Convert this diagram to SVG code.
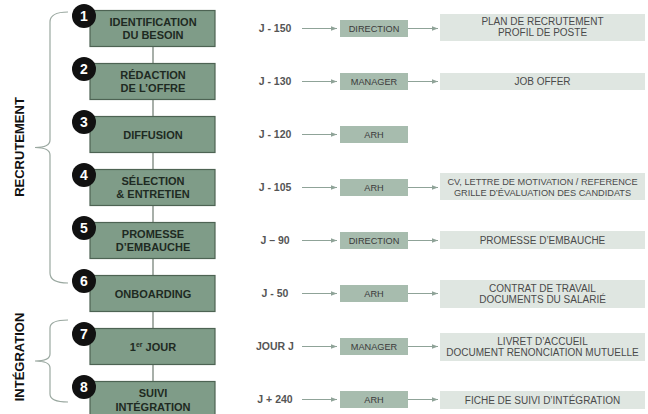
<svg xmlns="http://www.w3.org/2000/svg" width="648" height="414" viewBox="0 0 648 414">
<defs>
<marker id="ah" viewBox="0 0 6 6" refX="6" refY="3" markerWidth="6" markerHeight="6" markerUnits="userSpaceOnUse" orient="auto">
<path d="M0,0.8 L6,3 L0,5.2 Z" fill="#8fa398"/>
</marker>
<style>
.step{fill:#7f9c88;stroke:#4d6353;stroke-width:1.2}
.num{fill:#111}
.numt{font-family:"Liberation Sans",Arial,sans-serif;font-weight:bold;font-size:14px;fill:#fff;text-anchor:middle}
.st{font-family:"Liberation Sans",Arial,sans-serif;font-weight:bold;font-size:11px;fill:#1e2a22;text-anchor:middle}
.day{font-family:"Liberation Sans",Arial,sans-serif;font-weight:bold;font-size:10.5px;fill:#555;text-anchor:middle}
.role{fill:#a7bcae}
.rt{font-family:"Liberation Sans",Arial,sans-serif;font-size:9.2px;fill:#3a3a3a;text-anchor:middle}
.out{fill:#dfe6e1}
.ot{font-family:"Liberation Sans",Arial,sans-serif;font-size:10px;fill:#4a4a4a;text-anchor:middle}
.ots{font-size:9.2px}
.arr{stroke:#8fa398;stroke-width:1;fill:none}
.vline{stroke:#6d7a70;stroke-width:1.2}
.brace{stroke:#9aa8a0;stroke-width:1.2;fill:none}
.side{font-family:"Liberation Sans",Arial,sans-serif;font-weight:bold;font-size:13px;fill:#111;text-anchor:middle}
</style>
</defs>
<rect width="648" height="414" fill="#fff"/>

<g id="braces">
<path class="brace" d="M68,12 Q50,12 50,22 L50,140 Q50,147.5 35,147.5 Q50,147.5 50,155 L50,273 Q50,283 68,283"/>
<path class="brace" d="M68,320 Q50,320 50,328 L50,354 Q50,361 35,361 Q50,361 50,368 L50,394 Q50,402 68,402"/>
<text class="side" transform="translate(24,147) rotate(-90)">RECRUTEMENT</text>
<text class="side" transform="translate(24,357) rotate(-90)">INTÉGRATION</text>
</g>

<g id="connectors">
<line class="vline" x1="153" y1="46.5" x2="153" y2="63.5"/>
<line class="vline" x1="153" y1="99.5" x2="153" y2="116.5"/>
<line class="vline" x1="153" y1="152.5" x2="153" y2="169.5"/>
<line class="vline" x1="153" y1="205.5" x2="153" y2="222.5"/>
<line class="vline" x1="153" y1="258.5" x2="153" y2="275.5"/>
<line class="vline" x1="153" y1="311.5" x2="153" y2="328.5"/>
<line class="vline" x1="153" y1="364.5" x2="153" y2="381.5"/>
<line class="arr" x1="302" y1="28.5" x2="337" y2="28.5" marker-end="url(#ah)"/>
<line class="arr" x1="302" y1="81.5" x2="337" y2="81.5" marker-end="url(#ah)"/>
<line class="arr" x1="302" y1="134.5" x2="337" y2="134.5" marker-end="url(#ah)"/>
<line class="arr" x1="302" y1="187.5" x2="337" y2="187.5" marker-end="url(#ah)"/>
<line class="arr" x1="302" y1="240.5" x2="337" y2="240.5" marker-end="url(#ah)"/>
<line class="arr" x1="302" y1="293.5" x2="337" y2="293.5" marker-end="url(#ah)"/>
<line class="arr" x1="302" y1="346.5" x2="337" y2="346.5" marker-end="url(#ah)"/>
<line class="arr" x1="302" y1="399.5" x2="337" y2="399.5" marker-end="url(#ah)"/>
<line class="arr" x1="408" y1="28.5" x2="438" y2="28.5" marker-end="url(#ah)"/>
<line class="arr" x1="408" y1="81.5" x2="438" y2="81.5" marker-end="url(#ah)"/>
<line class="arr" x1="408" y1="187.5" x2="438" y2="187.5" marker-end="url(#ah)"/>
<line class="arr" x1="408" y1="240.5" x2="438" y2="240.5" marker-end="url(#ah)"/>
<line class="arr" x1="408" y1="293.5" x2="438" y2="293.5" marker-end="url(#ah)"/>
<line class="arr" x1="408" y1="346.5" x2="438" y2="346.5" marker-end="url(#ah)"/>
<line class="arr" x1="408" y1="399.5" x2="438" y2="399.5" marker-end="url(#ah)"/>
</g>

<g id="step1">
<rect class="step" x="90" y="10.5" width="125" height="36"/>
<text class="st" x="153" y="26.3">IDENTIFICATION</text>
<text class="st" x="153" y="39">DU BESOIN</text>
<circle class="num" cx="84" cy="16" r="12"/>
<text class="numt" x="84" y="21">1</text>
</g>
<g id="step2">
<rect class="step" x="90" y="63.5" width="125" height="36"/>
<text class="st" x="153" y="79.3">RÉDACTION</text>
<text class="st" x="153" y="92">DE L’OFFRE</text>
<circle class="num" cx="84" cy="69" r="12"/>
<text class="numt" x="84" y="74">2</text>
</g>
<g id="step3">
<rect class="step" x="90" y="116.5" width="125" height="36"/>
<text class="st" x="153" y="138.5">DIFFUSION</text>
<circle class="num" cx="84" cy="122" r="12"/>
<text class="numt" x="84" y="127">3</text>
</g>
<g id="step4">
<rect class="step" x="90" y="169.5" width="125" height="36"/>
<text class="st" x="153" y="185.3">SÉLECTION</text>
<text class="st" x="153" y="198">&amp; ENTRETIEN</text>
<circle class="num" cx="84" cy="175" r="12"/>
<text class="numt" x="84" y="180">4</text>
</g>
<g id="step5">
<rect class="step" x="90" y="222.5" width="125" height="36"/>
<text class="st" x="153" y="238.3">PROMESSE</text>
<text class="st" x="153" y="251">D’EMBAUCHE</text>
<circle class="num" cx="84" cy="228" r="12"/>
<text class="numt" x="84" y="233">5</text>
</g>
<g id="step6">
<rect class="step" x="90" y="275.5" width="125" height="36"/>
<text class="st" x="153" y="297.5">ONBOARDING</text>
<circle class="num" cx="84" cy="281" r="12"/>
<text class="numt" x="84" y="286">6</text>
</g>
<g id="step7">
<rect class="step" x="90" y="328.5" width="125" height="36"/>
<text class="st" x="153" y="350.5">1<tspan font-size="7" dy="-4">er</tspan><tspan dy="4"> JOUR</tspan></text>
<circle class="num" cx="84" cy="334" r="12"/>
<text class="numt" x="84" y="339">7</text>
</g>
<g id="step8">
<rect class="step" x="90" y="381.5" width="125" height="36"/>
<text class="st" x="153" y="397.3">SUIVI</text>
<text class="st" x="153" y="410.5">INTÉGRATION</text>
<circle class="num" cx="84" cy="387" r="12"/>
<text class="numt" x="84" y="392">8</text>
</g>

<g id="days">
<text class="day" x="275" y="32.2">J - 150</text>
<text class="day" x="275" y="85.2">J - 130</text>
<text class="day" x="275" y="138.2">J - 120</text>
<text class="day" x="275" y="191.2">J - 105</text>
<text class="day" x="275" y="244.2">J – 90</text>
<text class="day" x="275" y="297.2">J - 50</text>
<text class="day" x="275" y="350.2">JOUR J</text>
<text class="day" x="275" y="403.2">J + 240</text>
</g>

<g id="roles">
<rect class="role" x="340" y="20" width="68" height="17"/>
<text class="rt" x="374" y="31.7">DIRECTION</text>
<rect class="role" x="340" y="73" width="68" height="17"/>
<text class="rt" x="374" y="84.7">MANAGER</text>
<rect class="role" x="340" y="126" width="68" height="17"/>
<text class="rt" x="374" y="137.7">ARH</text>
<rect class="role" x="340" y="179" width="68" height="17"/>
<text class="rt" x="374" y="190.7">ARH</text>
<rect class="role" x="340" y="232" width="68" height="17"/>
<text class="rt" x="374" y="243.7">DIRECTION</text>
<rect class="role" x="340" y="285" width="68" height="17"/>
<text class="rt" x="374" y="296.7">ARH</text>
<rect class="role" x="340" y="338" width="68" height="17"/>
<text class="rt" x="374" y="349.7">MANAGER</text>
<rect class="role" x="340" y="391" width="68" height="17"/>
<text class="rt" x="374" y="402.7">ARH</text>
</g>

<g id="outputs">
<rect class="out" x="440" y="14" width="205" height="27"/>
<text class="ot" x="542.5" y="25">PLAN DE RECRUTEMENT</text>
<text class="ot" x="542.5" y="36">PROFIL DE POSTE</text>
<rect class="out" x="440" y="73" width="205" height="17"/>
<text class="ot" x="542.5" y="85">JOB OFFER</text>
<rect class="out" x="440" y="173" width="205" height="27"/>
<text class="ot ots" x="542.5" y="184.5">CV, LETTRE DE MOTIVATION / REFERENCE</text>
<text class="ot ots" x="542.5" y="195.5">GRILLE D’ÉVALUATION DES CANDIDATS</text>
<rect class="out" x="440" y="231" width="205" height="18"/>
<text class="ot" x="542.5" y="243.5">PROMESSE D’EMBAUCHE</text>
<rect class="out" x="440" y="280" width="205" height="28"/>
<text class="ot" x="542.5" y="291.5">CONTRAT DE TRAVAIL</text>
<text class="ot" x="542.5" y="302.5">DOCUMENTS DU SALARIÉ</text>
<rect class="out" x="440" y="333" width="205" height="28"/>
<text class="ot" x="542.5" y="344.5">LIVRET D’ACCUEIL</text>
<text class="ot" x="542.5" y="355.5">DOCUMENT RENONCIATION MUTUELLE</text>
<rect class="out" x="440" y="391" width="205" height="18"/>
<text class="ot" x="542.5" y="403.5">FICHE DE SUIVI D’INTÉGRATION</text>
</g>
</svg>
